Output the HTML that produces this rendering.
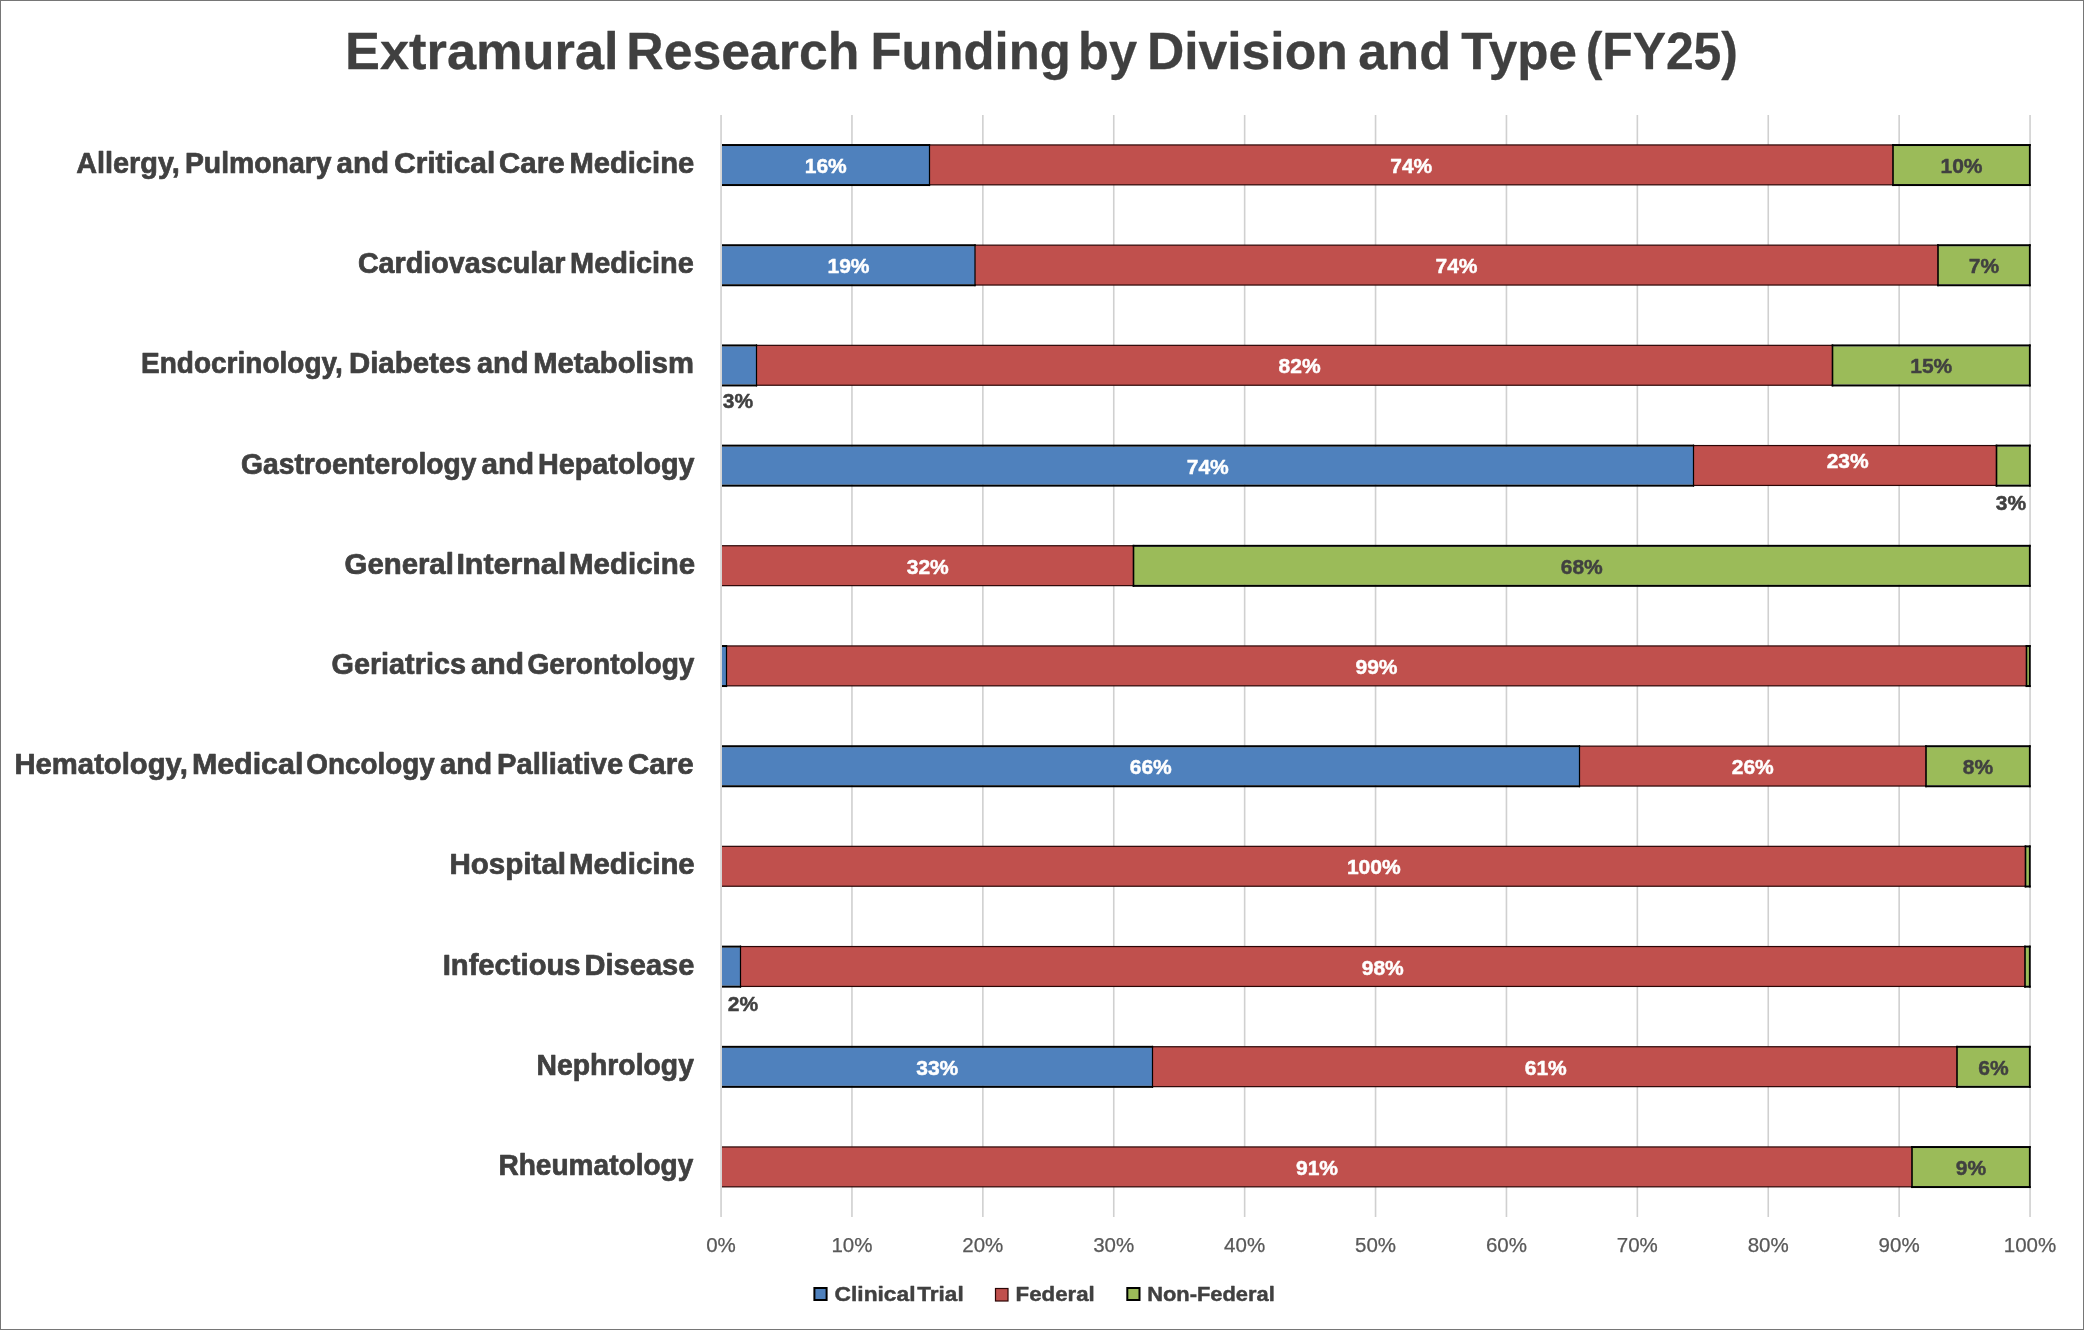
<!DOCTYPE html>
<html><head><meta charset="utf-8"><title>Extramural Research Funding by Division and Type (FY25)</title>
<style>html,body{margin:0;padding:0;background:#fff;}body{width:2084px;height:1330px;position:relative;overflow:hidden;}</style>
</head><body>
<svg width="2084" height="1330" viewBox="0 0 2084 1330" style="position:absolute;left:0;top:0;font-family:'Liberation Sans', Arial, sans-serif;will-change:transform">
<rect x="0" y="0" width="2084" height="1330" fill="#fff"/>
<rect x="720.25" y="115" width="1.6" height="1102" fill="#D0D0D0"/>
<rect x="851.15" y="115" width="1.6" height="1102" fill="#D0D0D0"/>
<rect x="982.05" y="115" width="1.6" height="1102" fill="#D0D0D0"/>
<rect x="1112.95" y="115" width="1.6" height="1102" fill="#D0D0D0"/>
<rect x="1243.85" y="115" width="1.6" height="1102" fill="#D0D0D0"/>
<rect x="1374.75" y="115" width="1.6" height="1102" fill="#D0D0D0"/>
<rect x="1505.65" y="115" width="1.6" height="1102" fill="#D0D0D0"/>
<rect x="1636.55" y="115" width="1.6" height="1102" fill="#D0D0D0"/>
<rect x="1767.45" y="115" width="1.6" height="1102" fill="#D0D0D0"/>
<rect x="1898.35" y="115" width="1.6" height="1102" fill="#D0D0D0"/>
<rect x="2029.25" y="115" width="1.6" height="1102" fill="#D0D0D0"/>
<defs><clipPath id="pc"><rect x="722" y="100" width="1400" height="1200"/></clipPath></defs>
<g clip-path="url(#pc)">
<rect x="929.50" y="144.94" width="963.50" height="39.90" fill="#C0504D"/>
<rect x="929.50" y="144.34" width="963.50" height="1.20" fill="#2a0606"/>
<rect x="929.50" y="184.24" width="963.50" height="1.20" fill="#2a0606"/>
<rect x="722.00" y="146.04" width="207.50" height="38.00" fill="#4F81BD"/>
<rect x="722.00" y="144.04" width="208.10" height="2.00" fill="#000"/>
<rect x="722.00" y="184.04" width="208.10" height="2.00" fill="#000"/>
<rect x="928.90" y="144.04" width="1.20" height="42.00" fill="#000"/>
<rect x="1893.00" y="146.04" width="137.00" height="38.00" fill="#9BBB59"/>
<rect x="1892.20" y="144.04" width="138.50" height="2.00" fill="#000"/>
<rect x="1892.20" y="184.04" width="138.50" height="2.00" fill="#000"/>
<rect x="1892.20" y="144.04" width="1.60" height="42.00" fill="#000"/>
<rect x="2028.90" y="144.04" width="1.80" height="42.00" fill="#000"/>
<rect x="975.00" y="245.14" width="963.00" height="39.90" fill="#C0504D"/>
<rect x="975.00" y="244.54" width="963.00" height="1.20" fill="#2a0606"/>
<rect x="975.00" y="284.44" width="963.00" height="1.20" fill="#2a0606"/>
<rect x="722.00" y="246.24" width="253.00" height="38.00" fill="#4F81BD"/>
<rect x="722.00" y="244.24" width="253.60" height="2.00" fill="#000"/>
<rect x="722.00" y="284.24" width="253.60" height="2.00" fill="#000"/>
<rect x="974.40" y="244.24" width="1.20" height="42.00" fill="#000"/>
<rect x="1938.00" y="246.24" width="92.00" height="38.00" fill="#9BBB59"/>
<rect x="1937.20" y="244.24" width="93.50" height="2.00" fill="#000"/>
<rect x="1937.20" y="284.24" width="93.50" height="2.00" fill="#000"/>
<rect x="1937.20" y="244.24" width="1.60" height="42.00" fill="#000"/>
<rect x="2028.90" y="244.24" width="1.80" height="42.00" fill="#000"/>
<rect x="756.50" y="345.34" width="1076.00" height="39.90" fill="#C0504D"/>
<rect x="756.50" y="344.74" width="1076.00" height="1.20" fill="#2a0606"/>
<rect x="756.50" y="384.64" width="1076.00" height="1.20" fill="#2a0606"/>
<rect x="722.00" y="346.44" width="34.50" height="38.00" fill="#4F81BD"/>
<rect x="722.00" y="344.44" width="35.10" height="2.00" fill="#000"/>
<rect x="722.00" y="384.44" width="35.10" height="2.00" fill="#000"/>
<rect x="755.90" y="344.44" width="1.20" height="42.00" fill="#000"/>
<rect x="1832.50" y="346.44" width="197.50" height="38.00" fill="#9BBB59"/>
<rect x="1831.70" y="344.44" width="199.00" height="2.00" fill="#000"/>
<rect x="1831.70" y="384.44" width="199.00" height="2.00" fill="#000"/>
<rect x="1831.70" y="344.44" width="1.60" height="42.00" fill="#000"/>
<rect x="2028.90" y="344.44" width="1.80" height="42.00" fill="#000"/>
<rect x="1693.50" y="445.54" width="303.00" height="39.90" fill="#C0504D"/>
<rect x="1693.50" y="444.94" width="303.00" height="1.20" fill="#2a0606"/>
<rect x="1693.50" y="484.84" width="303.00" height="1.20" fill="#2a0606"/>
<rect x="722.00" y="446.64" width="971.50" height="38.00" fill="#4F81BD"/>
<rect x="722.00" y="444.64" width="972.10" height="2.00" fill="#000"/>
<rect x="722.00" y="484.64" width="972.10" height="2.00" fill="#000"/>
<rect x="1692.90" y="444.64" width="1.20" height="42.00" fill="#000"/>
<rect x="1996.50" y="446.64" width="33.50" height="38.00" fill="#9BBB59"/>
<rect x="1995.70" y="444.64" width="35.00" height="2.00" fill="#000"/>
<rect x="1995.70" y="484.64" width="35.00" height="2.00" fill="#000"/>
<rect x="1995.70" y="444.64" width="1.60" height="42.00" fill="#000"/>
<rect x="2028.90" y="444.64" width="1.80" height="42.00" fill="#000"/>
<rect x="722.00" y="545.74" width="411.50" height="39.90" fill="#C0504D"/>
<rect x="722.00" y="545.14" width="411.50" height="1.20" fill="#2a0606"/>
<rect x="722.00" y="585.04" width="411.50" height="1.20" fill="#2a0606"/>
<rect x="1133.50" y="546.84" width="896.50" height="38.00" fill="#9BBB59"/>
<rect x="1132.70" y="544.84" width="898.00" height="2.00" fill="#000"/>
<rect x="1132.70" y="584.84" width="898.00" height="2.00" fill="#000"/>
<rect x="1132.70" y="544.84" width="1.60" height="42.00" fill="#000"/>
<rect x="2028.90" y="544.84" width="1.80" height="42.00" fill="#000"/>
<rect x="726.50" y="645.94" width="1300.00" height="39.90" fill="#C0504D"/>
<rect x="726.50" y="645.34" width="1300.00" height="1.20" fill="#2a0606"/>
<rect x="726.50" y="685.24" width="1300.00" height="1.20" fill="#2a0606"/>
<rect x="722.00" y="647.04" width="4.50" height="38.00" fill="#4F81BD"/>
<rect x="722.00" y="645.04" width="5.10" height="2.00" fill="#000"/>
<rect x="722.00" y="685.04" width="5.10" height="2.00" fill="#000"/>
<rect x="725.90" y="645.04" width="1.20" height="42.00" fill="#000"/>
<rect x="2026.50" y="647.04" width="3.50" height="38.00" fill="#9BBB59"/>
<rect x="2025.70" y="645.04" width="5.00" height="2.00" fill="#000"/>
<rect x="2025.70" y="685.04" width="5.00" height="2.00" fill="#000"/>
<rect x="2025.70" y="645.04" width="1.60" height="42.00" fill="#000"/>
<rect x="2028.90" y="645.04" width="1.80" height="42.00" fill="#000"/>
<rect x="1579.50" y="746.14" width="346.50" height="39.90" fill="#C0504D"/>
<rect x="1579.50" y="745.54" width="346.50" height="1.20" fill="#2a0606"/>
<rect x="1579.50" y="785.44" width="346.50" height="1.20" fill="#2a0606"/>
<rect x="722.00" y="747.24" width="857.50" height="38.00" fill="#4F81BD"/>
<rect x="722.00" y="745.24" width="858.10" height="2.00" fill="#000"/>
<rect x="722.00" y="785.24" width="858.10" height="2.00" fill="#000"/>
<rect x="1578.90" y="745.24" width="1.20" height="42.00" fill="#000"/>
<rect x="1926.00" y="747.24" width="104.00" height="38.00" fill="#9BBB59"/>
<rect x="1925.20" y="745.24" width="105.50" height="2.00" fill="#000"/>
<rect x="1925.20" y="785.24" width="105.50" height="2.00" fill="#000"/>
<rect x="1925.20" y="745.24" width="1.60" height="42.00" fill="#000"/>
<rect x="2028.90" y="745.24" width="1.80" height="42.00" fill="#000"/>
<rect x="722.00" y="846.34" width="1303.50" height="39.90" fill="#C0504D"/>
<rect x="722.00" y="845.74" width="1303.50" height="1.20" fill="#2a0606"/>
<rect x="722.00" y="885.64" width="1303.50" height="1.20" fill="#2a0606"/>
<rect x="2025.50" y="847.44" width="4.50" height="38.00" fill="#9BBB59"/>
<rect x="2024.70" y="845.44" width="6.00" height="2.00" fill="#000"/>
<rect x="2024.70" y="885.44" width="6.00" height="2.00" fill="#000"/>
<rect x="2024.70" y="845.44" width="1.60" height="42.00" fill="#000"/>
<rect x="2028.90" y="845.44" width="1.80" height="42.00" fill="#000"/>
<rect x="740.50" y="946.54" width="1284.50" height="39.90" fill="#C0504D"/>
<rect x="740.50" y="945.94" width="1284.50" height="1.20" fill="#2a0606"/>
<rect x="740.50" y="985.84" width="1284.50" height="1.20" fill="#2a0606"/>
<rect x="722.00" y="947.64" width="18.50" height="38.00" fill="#4F81BD"/>
<rect x="722.00" y="945.64" width="19.10" height="2.00" fill="#000"/>
<rect x="722.00" y="985.64" width="19.10" height="2.00" fill="#000"/>
<rect x="739.90" y="945.64" width="1.20" height="42.00" fill="#000"/>
<rect x="2025.00" y="947.64" width="5.00" height="38.00" fill="#9BBB59"/>
<rect x="2024.20" y="945.64" width="6.50" height="2.00" fill="#000"/>
<rect x="2024.20" y="985.64" width="6.50" height="2.00" fill="#000"/>
<rect x="2024.20" y="945.64" width="1.60" height="42.00" fill="#000"/>
<rect x="2028.90" y="945.64" width="1.80" height="42.00" fill="#000"/>
<rect x="1152.50" y="1046.74" width="804.50" height="39.90" fill="#C0504D"/>
<rect x="1152.50" y="1046.14" width="804.50" height="1.20" fill="#2a0606"/>
<rect x="1152.50" y="1086.04" width="804.50" height="1.20" fill="#2a0606"/>
<rect x="722.00" y="1047.84" width="430.50" height="38.00" fill="#4F81BD"/>
<rect x="722.00" y="1045.84" width="431.10" height="2.00" fill="#000"/>
<rect x="722.00" y="1085.84" width="431.10" height="2.00" fill="#000"/>
<rect x="1151.90" y="1045.84" width="1.20" height="42.00" fill="#000"/>
<rect x="1957.00" y="1047.84" width="73.00" height="38.00" fill="#9BBB59"/>
<rect x="1956.20" y="1045.84" width="74.50" height="2.00" fill="#000"/>
<rect x="1956.20" y="1085.84" width="74.50" height="2.00" fill="#000"/>
<rect x="1956.20" y="1045.84" width="1.60" height="42.00" fill="#000"/>
<rect x="2028.90" y="1045.84" width="1.80" height="42.00" fill="#000"/>
<rect x="722.00" y="1146.94" width="1190.00" height="39.90" fill="#C0504D"/>
<rect x="722.00" y="1146.34" width="1190.00" height="1.20" fill="#2a0606"/>
<rect x="722.00" y="1186.24" width="1190.00" height="1.20" fill="#2a0606"/>
<rect x="1912.00" y="1148.04" width="118.00" height="38.00" fill="#9BBB59"/>
<rect x="1911.20" y="1146.04" width="119.50" height="2.00" fill="#000"/>
<rect x="1911.20" y="1186.04" width="119.50" height="2.00" fill="#000"/>
<rect x="1911.20" y="1146.04" width="1.60" height="42.00" fill="#000"/>
<rect x="2028.90" y="1146.04" width="1.80" height="42.00" fill="#000"/>
</g>
<rect x="0.5" y="0.5" width="2083" height="1329" fill="none" stroke="#767676" stroke-width="1"/>
<text id="title" y="68.70" font-size="52" font-weight="bold" fill="#404040" stroke="#404040" stroke-width="0.3" stroke-linejoin="round"><tspan id="titlew0" x="345.10" textLength="288.00" lengthAdjust="spacingAndGlyphs">Extramural </tspan><tspan id="titlew1" x="626.30" textLength="247.40" lengthAdjust="spacingAndGlyphs">Research </tspan><tspan id="titlew2" x="870.50" textLength="214.40" lengthAdjust="spacingAndGlyphs">Funding </tspan><tspan id="titlew3" x="1078.10" textLength="73.00" lengthAdjust="spacingAndGlyphs">by </tspan><tspan id="titlew4" x="1146.90" textLength="215.20" lengthAdjust="spacingAndGlyphs">Division </tspan><tspan id="titlew5" x="1358.30" textLength="107.20" lengthAdjust="spacingAndGlyphs">and </tspan><tspan id="titlew6" x="1461.30" textLength="129.80" lengthAdjust="spacingAndGlyphs">Type </tspan><tspan id="titlew7" x="1585.70" textLength="152.20" lengthAdjust="spacingAndGlyphs">(FY25)</tspan></text>
<text id="cat0" y="173.04" font-size="29" font-weight="bold" fill="#404040" stroke="#404040" stroke-width="0.7" stroke-linejoin="round"><tspan id="cat0w0" x="76.20" textLength="111.70" lengthAdjust="spacingAndGlyphs">Allergy, </tspan><tspan id="cat0w1" x="184.90" textLength="154.50" lengthAdjust="spacingAndGlyphs">Pulmonary </tspan><tspan id="cat0w2" x="336.60" textLength="60.70" lengthAdjust="spacingAndGlyphs">and </tspan><tspan id="cat0w3" x="394.20" textLength="109.30" lengthAdjust="spacingAndGlyphs">Critical </tspan><tspan id="cat0w4" x="499.10" textLength="73.60" lengthAdjust="spacingAndGlyphs">Care </tspan><tspan id="cat0w5" x="569.40" textLength="124.80" lengthAdjust="spacingAndGlyphs">Medicine</tspan></text>
<text id="cat1" y="273.24" font-size="29" font-weight="bold" fill="#404040" stroke="#404040" stroke-width="0.7" stroke-linejoin="round"><tspan id="cat1w0" x="357.90" textLength="215.40" lengthAdjust="spacingAndGlyphs">Cardiovascular </tspan><tspan id="cat1w1" x="570.10" textLength="123.70" lengthAdjust="spacingAndGlyphs">Medicine</tspan></text>
<text id="cat2" y="373.44" font-size="29" font-weight="bold" fill="#404040" stroke="#404040" stroke-width="0.7" stroke-linejoin="round"><tspan id="cat2w0" x="141.00" textLength="209.60" lengthAdjust="spacingAndGlyphs">Endocrinology, </tspan><tspan id="cat2w1" x="349.00" textLength="130.60" lengthAdjust="spacingAndGlyphs">Diabetes </tspan><tspan id="cat2w2" x="476.90" textLength="59.50" lengthAdjust="spacingAndGlyphs">and </tspan><tspan id="cat2w3" x="533.30" textLength="160.60" lengthAdjust="spacingAndGlyphs">Metabolism</tspan></text>
<text id="cat3" y="473.64" font-size="29" font-weight="bold" fill="#404040" stroke="#404040" stroke-width="0.7" stroke-linejoin="round"><tspan id="cat3w0" x="241.10" textLength="243.20" lengthAdjust="spacingAndGlyphs">Gastroenterology </tspan><tspan id="cat3w1" x="481.60" textLength="60.80" lengthAdjust="spacingAndGlyphs">and </tspan><tspan id="cat3w2" x="538.00" textLength="156.60" lengthAdjust="spacingAndGlyphs">Hepatology</tspan></text>
<text id="cat4" y="573.84" font-size="29" font-weight="bold" fill="#404040" stroke="#404040" stroke-width="0.7" stroke-linejoin="round"><tspan id="cat4w0" x="344.60" textLength="117.40" lengthAdjust="spacingAndGlyphs">General </tspan><tspan id="cat4w1" x="456.40" textLength="118.30" lengthAdjust="spacingAndGlyphs">Internal </tspan><tspan id="cat4w2" x="569.10" textLength="126.00" lengthAdjust="spacingAndGlyphs">Medicine</tspan></text>
<text id="cat5" y="674.04" font-size="29" font-weight="bold" fill="#404040" stroke="#404040" stroke-width="0.7" stroke-linejoin="round"><tspan id="cat5w0" x="331.50" textLength="142.40" lengthAdjust="spacingAndGlyphs">Geriatrics </tspan><tspan id="cat5w1" x="470.90" textLength="61.30" lengthAdjust="spacingAndGlyphs">and </tspan><tspan id="cat5w2" x="527.40" textLength="167.10" lengthAdjust="spacingAndGlyphs">Gerontology</tspan></text>
<text id="cat6" y="774.24" font-size="29" font-weight="bold" fill="#404040" stroke="#404040" stroke-width="0.7" stroke-linejoin="round"><tspan id="cat6w0" x="14.50" textLength="181.40" lengthAdjust="spacingAndGlyphs">Hematology, </tspan><tspan id="cat6w1" x="191.90" textLength="119.90" lengthAdjust="spacingAndGlyphs">Medical </tspan><tspan id="cat6w2" x="306.30" textLength="136.10" lengthAdjust="spacingAndGlyphs">Oncology </tspan><tspan id="cat6w3" x="440.10" textLength="60.10" lengthAdjust="spacingAndGlyphs">and </tspan><tspan id="cat6w4" x="497.10" textLength="134.20" lengthAdjust="spacingAndGlyphs">Palliative </tspan><tspan id="cat6w5" x="628.00" textLength="65.60" lengthAdjust="spacingAndGlyphs">Care</tspan></text>
<text id="cat7" y="874.44" font-size="29" font-weight="bold" fill="#404040" stroke="#404040" stroke-width="0.7" stroke-linejoin="round"><tspan id="cat7w0" x="449.40" textLength="124.90" lengthAdjust="spacingAndGlyphs">Hospital </tspan><tspan id="cat7w1" x="569.00" textLength="125.70" lengthAdjust="spacingAndGlyphs">Medicine</tspan></text>
<text id="cat8" y="974.64" font-size="29" font-weight="bold" fill="#404040" stroke="#404040" stroke-width="0.7" stroke-linejoin="round"><tspan id="cat8w0" x="442.70" textLength="146.00" lengthAdjust="spacingAndGlyphs">Infectious </tspan><tspan id="cat8w1" x="584.60" textLength="109.70" lengthAdjust="spacingAndGlyphs">Disease</tspan></text>
<text id="cat9" y="1074.84" font-size="29" font-weight="bold" fill="#404040" stroke="#404040" stroke-width="0.7" stroke-linejoin="round"><tspan id="cat9w0" x="536.50" textLength="157.40" lengthAdjust="spacingAndGlyphs">Nephrology</tspan></text>
<text id="cat10" y="1175.04" font-size="29" font-weight="bold" fill="#404040" stroke="#404040" stroke-width="0.7" stroke-linejoin="round"><tspan id="cat10w0" x="498.40" textLength="195.00" lengthAdjust="spacingAndGlyphs">Rheumatology</tspan></text>
<text id="ax0" x="721.00" y="1252" font-size="20.5" fill="#595959" text-anchor="middle" stroke="#595959" stroke-width="0.25">0%</text>
<text id="ax1" x="851.90" y="1252" font-size="20.5" fill="#595959" text-anchor="middle" stroke="#595959" stroke-width="0.25">10%</text>
<text id="ax2" x="982.80" y="1252" font-size="20.5" fill="#595959" text-anchor="middle" stroke="#595959" stroke-width="0.25">20%</text>
<text id="ax3" x="1113.70" y="1252" font-size="20.5" fill="#595959" text-anchor="middle" stroke="#595959" stroke-width="0.25">30%</text>
<text id="ax4" x="1244.60" y="1252" font-size="20.5" fill="#595959" text-anchor="middle" stroke="#595959" stroke-width="0.25">40%</text>
<text id="ax5" x="1375.50" y="1252" font-size="20.5" fill="#595959" text-anchor="middle" stroke="#595959" stroke-width="0.25">50%</text>
<text id="ax6" x="1506.40" y="1252" font-size="20.5" fill="#595959" text-anchor="middle" stroke="#595959" stroke-width="0.25">60%</text>
<text id="ax7" x="1637.30" y="1252" font-size="20.5" fill="#595959" text-anchor="middle" stroke="#595959" stroke-width="0.25">70%</text>
<text id="ax8" x="1768.20" y="1252" font-size="20.5" fill="#595959" text-anchor="middle" stroke="#595959" stroke-width="0.25">80%</text>
<text id="ax9" x="1899.10" y="1252" font-size="20.5" fill="#595959" text-anchor="middle" stroke="#595959" stroke-width="0.25">90%</text>
<text id="ax10" x="2030.00" y="1252" font-size="20.5" fill="#595959" text-anchor="middle" stroke="#595959" stroke-width="0.25">100%</text>
<text id="dl0_0" x="825.75" y="173.04" font-size="21" font-weight="bold" fill="#fff" text-anchor="middle" stroke="#fff" stroke-width="0.45" stroke-linejoin="round">16%</text>
<text id="dl0_1" x="1411.25" y="173.04" font-size="21" font-weight="bold" fill="#fff" text-anchor="middle" stroke="#fff" stroke-width="0.45" stroke-linejoin="round">74%</text>
<text id="dl0_2" x="1961.50" y="173.04" font-size="21" font-weight="bold" fill="#404040" text-anchor="middle" stroke="#404040" stroke-width="0.45" stroke-linejoin="round">10%</text>
<text id="dl1_0" x="848.50" y="273.24" font-size="21" font-weight="bold" fill="#fff" text-anchor="middle" stroke="#fff" stroke-width="0.45" stroke-linejoin="round">19%</text>
<text id="dl1_1" x="1456.50" y="273.24" font-size="21" font-weight="bold" fill="#fff" text-anchor="middle" stroke="#fff" stroke-width="0.45" stroke-linejoin="round">74%</text>
<text id="dl1_2" x="1984.00" y="273.24" font-size="21" font-weight="bold" fill="#404040" text-anchor="middle" stroke="#404040" stroke-width="0.45" stroke-linejoin="round">7%</text>
<text id="dl2_0" x="738.00" y="407.70" font-size="21" font-weight="bold" fill="#404040" text-anchor="middle" stroke="#404040" stroke-width="0.45" stroke-linejoin="round">3%</text>
<text id="dl2_1" x="1299.60" y="373.44" font-size="21" font-weight="bold" fill="#fff" text-anchor="middle" stroke="#fff" stroke-width="0.45" stroke-linejoin="round">82%</text>
<text id="dl2_2" x="1931.25" y="373.44" font-size="21" font-weight="bold" fill="#404040" text-anchor="middle" stroke="#404040" stroke-width="0.45" stroke-linejoin="round">15%</text>
<text id="dl3_0" x="1207.75" y="473.64" font-size="21" font-weight="bold" fill="#fff" text-anchor="middle" stroke="#fff" stroke-width="0.45" stroke-linejoin="round">74%</text>
<text id="dl3_1" x="1847.70" y="467.90" font-size="21" font-weight="bold" fill="#fff" text-anchor="middle" stroke="#fff" stroke-width="0.45" stroke-linejoin="round">23%</text>
<text id="dl3_2" x="2011.00" y="509.80" font-size="21" font-weight="bold" fill="#404040" text-anchor="middle" stroke="#404040" stroke-width="0.45" stroke-linejoin="round">3%</text>
<text id="dl4_0" x="927.75" y="573.84" font-size="21" font-weight="bold" fill="#fff" text-anchor="middle" stroke="#fff" stroke-width="0.45" stroke-linejoin="round">32%</text>
<text id="dl4_1" x="1581.75" y="573.84" font-size="21" font-weight="bold" fill="#404040" text-anchor="middle" stroke="#404040" stroke-width="0.45" stroke-linejoin="round">68%</text>
<text id="dl5_0" x="1376.50" y="674.04" font-size="21" font-weight="bold" fill="#fff" text-anchor="middle" stroke="#fff" stroke-width="0.45" stroke-linejoin="round">99%</text>
<text id="dl6_0" x="1150.75" y="774.24" font-size="21" font-weight="bold" fill="#fff" text-anchor="middle" stroke="#fff" stroke-width="0.45" stroke-linejoin="round">66%</text>
<text id="dl6_1" x="1752.75" y="774.24" font-size="21" font-weight="bold" fill="#fff" text-anchor="middle" stroke="#fff" stroke-width="0.45" stroke-linejoin="round">26%</text>
<text id="dl6_2" x="1978.00" y="774.24" font-size="21" font-weight="bold" fill="#404040" text-anchor="middle" stroke="#404040" stroke-width="0.45" stroke-linejoin="round">8%</text>
<text id="dl7_0" x="1373.75" y="874.44" font-size="21" font-weight="bold" fill="#fff" text-anchor="middle" stroke="#fff" stroke-width="0.45" stroke-linejoin="round">100%</text>
<text id="dl8_0" x="1382.75" y="974.64" font-size="21" font-weight="bold" fill="#fff" text-anchor="middle" stroke="#fff" stroke-width="0.45" stroke-linejoin="round">98%</text>
<text id="dl8_1" x="743.00" y="1011.40" font-size="21" font-weight="bold" fill="#404040" text-anchor="middle" stroke="#404040" stroke-width="0.45" stroke-linejoin="round">2%</text>
<text id="dl9_0" x="937.25" y="1074.84" font-size="21" font-weight="bold" fill="#fff" text-anchor="middle" stroke="#fff" stroke-width="0.45" stroke-linejoin="round">33%</text>
<text id="dl9_1" x="1545.75" y="1074.84" font-size="21" font-weight="bold" fill="#fff" text-anchor="middle" stroke="#fff" stroke-width="0.45" stroke-linejoin="round">61%</text>
<text id="dl9_2" x="1993.50" y="1074.84" font-size="21" font-weight="bold" fill="#404040" text-anchor="middle" stroke="#404040" stroke-width="0.45" stroke-linejoin="round">6%</text>
<text id="dl10_0" x="1317.00" y="1175.04" font-size="21" font-weight="bold" fill="#fff" text-anchor="middle" stroke="#fff" stroke-width="0.45" stroke-linejoin="round">91%</text>
<text id="dl10_1" x="1971.00" y="1175.04" font-size="21" font-weight="bold" fill="#404040" text-anchor="middle" stroke="#404040" stroke-width="0.45" stroke-linejoin="round">9%</text>
<rect x="814.40" y="1288" width="12.2" height="12" fill="#4F81BD" stroke="#000" stroke-width="2"/>
<rect x="1127.30" y="1288" width="12.2" height="12" fill="#9BBB59" stroke="#000" stroke-width="2"/>
<rect x="995.5" y="1288.5" width="12.5" height="12.5" fill="#C0504D" stroke="#2a0606" stroke-width="1.2"/>
<text id="lg0" y="1300.90" font-size="21" font-weight="bold" fill="#404040" stroke="#404040" stroke-width="0.45" stroke-linejoin="round"><tspan id="lg0w0" x="834.60" textLength="87.20" lengthAdjust="spacingAndGlyphs">Clinical </tspan><tspan id="lg0w1" x="917.30" textLength="46.40" lengthAdjust="spacingAndGlyphs">Trial</tspan></text>
<text id="lg1" y="1300.90" font-size="21" font-weight="bold" fill="#404040" stroke="#404040" stroke-width="0.45" stroke-linejoin="round"><tspan id="lg1w0" x="1015.60" textLength="79.10" lengthAdjust="spacingAndGlyphs">Federal</tspan></text>
<text id="lg2" y="1300.90" font-size="21" font-weight="bold" fill="#404040" stroke="#404040" stroke-width="0.45" stroke-linejoin="round"><tspan id="lg2w0" x="1147.20" textLength="127.60" lengthAdjust="spacingAndGlyphs">Non-Federal</tspan></text>
</svg>
</body></html>
